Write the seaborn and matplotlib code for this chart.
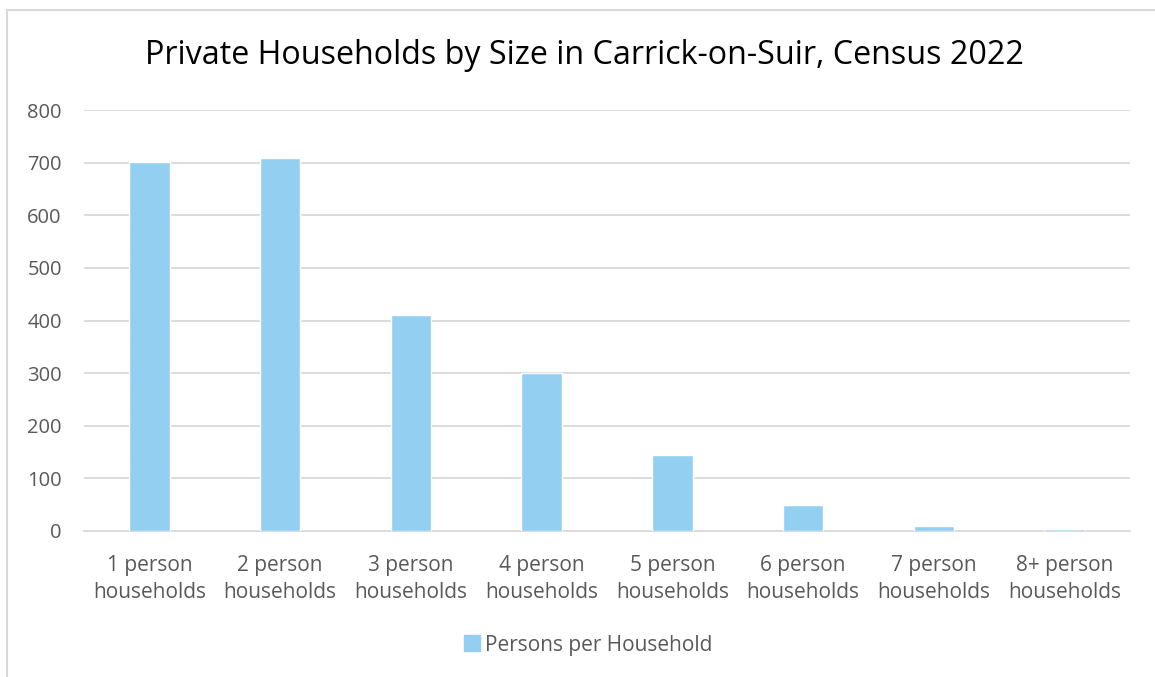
import matplotlib
matplotlib.use("Agg")
import matplotlib.pyplot as plt
import seaborn as sns
from matplotlib.patches import Rectangle
from matplotlib.lines import Line2D

# Data
categories = ["1 person\nhouseholds", "2 person\nhouseholds", "3 person\nhouseholds",
              "4 person\nhouseholds", "5 person\nhouseholds", "6 person\nhouseholds",
              "7 person\nhouseholds", "8+ person\nhouseholds"]
households = [702, 709, 410, 300, 144, 50, 9, 3]
series_name = "Persons per Household"
y_ticks = [0, 100, 200, 300, 400, 500, 600, 700, 800]

sns.set_theme(style="white")
plt.rcParams['font.family'] = ['Open Sans', 'DejaVu Sans']

bar_color = "#93CFF0"
text_grey = "#595959"
grid_grey = "#D9D9D9"

fig = plt.figure(figsize=(11.55, 6.77), dpi=100)
ax = fig.add_axes([84 / 1155, 1 - 531 / 677, (1130 - 84) / 1155, (531 - 110) / 677])

sns.barplot(x=categories, y=households, color=bar_color, width=0.31,
            saturation=1, ax=ax, zorder=3)

ax.set_ylim(0, 800)
ax.set_xlim(-0.5, len(categories) - 0.5)
ax.set_yticks(y_ticks)
ax.yaxis.grid(True, color=grid_grey, linewidth=1.3, zorder=0)
ax.xaxis.grid(False)
for side in ["top", "right", "left"]:
    ax.spines[side].set_visible(False)
ax.spines["bottom"].set_color(grid_grey)
ax.spines["bottom"].set_linewidth(1.3)
ax.tick_params(axis="both", length=0, labelcolor=text_grey)
ax.tick_params(axis="y", pad=16, labelsize=14.5)
ax.tick_params(axis="x", pad=17, labelsize=15)
for lbl in ax.get_xticklabels():
    lbl.set_linespacing(1.4)
ax.set_xlabel("")
ax.set_ylabel("")

fig.text(0.506, 1 - 55 / 677, "Private Households by Size in Carrick-on-Suir, Census 2022",
         ha="center", va="center", fontsize=23.2, color="black")

# Legend below the plot
handle = Line2D([], [], marker="s", linestyle="", markersize=11, color=bar_color)
fig.legend([handle], [series_name], loc="center", bbox_to_anchor=(0.509, 1 - 645 / 677),
           frameon=False, fontsize=15, labelcolor=text_grey,
           handlelength=0.8, handletextpad=0.25)

# Chart area frame (cut by right and bottom image edges)
fig.patches.append(Rectangle((7 / 1155, -0.1), 1.2, 1 - 10 / 677 + 0.1,
                             transform=fig.transFigure, fill=False,
                             edgecolor=grid_grey, linewidth=1.5))

fig.savefig("out.png", dpi=100, facecolor="white")
